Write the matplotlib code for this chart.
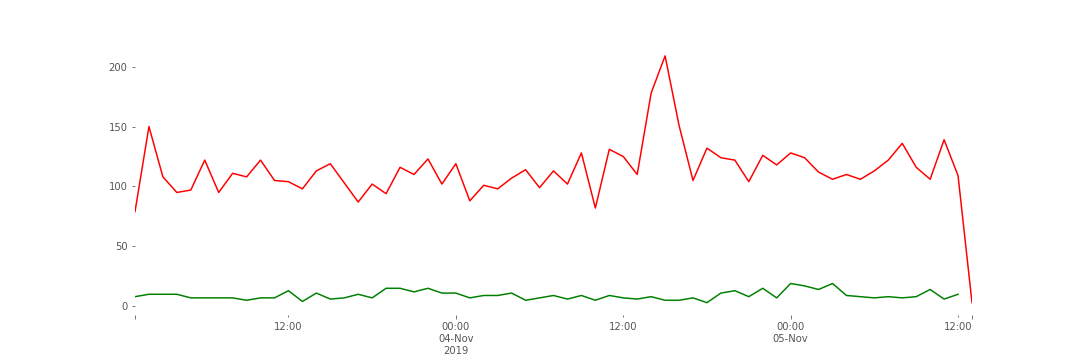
import numpy as np
import pandas as pd
import matplotlib
matplotlib.use("Agg")
import matplotlib.pyplot as plt
import matplotlib.dates as mdates
from matplotlib.ticker import FixedLocator, FixedFormatter

# -----------------------------
# DATA (hourly, 03-Nov-2019 01:00 -> 05-Nov-2019 13:00)
# -----------------------------
START = "2019-11-03 01:00"

red_values = [
    79, 150, 108, 95, 97, 122, 95, 111, 108, 122,
    105, 104, 98, 113, 119, 103, 87, 102, 94, 116,
    110, 123, 102, 119, 88, 101, 98, 107, 114, 99,
    113, 102, 128, 82, 131, 125, 110, 178, 209, 151,
    105, 132, 124, 122, 104, 126, 118, 128, 124, 112,
    106, 110, 106, 113, 122, 136, 116, 106, 139, 109,
    3,
]

green_values = [
    8, 10, 10, 10, 7, 7, 7, 7, 5, 7,
    7, 13, 4, 11, 6, 7, 10, 7, 15, 15,
    12, 15, 11, 11, 7, 9, 9, 11, 5, 7,
    9, 6, 9, 5, 9, 7, 6, 8, 5, 5,
    7, 3, 11, 13, 8, 15, 7, 19, 17, 14,
    19, 9, 8, 7, 8, 7, 8, 14, 6, 10,
    np.nan,
]

major_ticks = ["2019-11-03 01:00", "2019-11-04 00:00", "2019-11-05 00:00", "2019-11-05 13:00"]
major_labels = ["", "00:00\n04-Nov\n2019", "00:00\n05-Nov", ""]
minor_ticks = ["2019-11-03 12:00", "2019-11-04 12:00", "2019-11-05 12:00"]
minor_labels = ["12:00", "12:00", "12:00"]

times = pd.date_range(START, periods=len(red_values), freq="h")

# -----------------------------
# PLOT
# -----------------------------
fig = plt.figure(figsize=(15, 5), dpi=72)
ax = fig.add_axes([0.125, 0.125, 0.775, 0.754])

ax.plot(times, red_values, color="red", linewidth=1.5)
ax.plot(times, green_values, color="green", linewidth=1.5)

ax.set_xlim(times[0], times[-1])
ax.set_ylim(-7.3, 219.3)
ax.set_yticks([0, 50, 100, 150, 200])

ax.xaxis.set_major_locator(FixedLocator(mdates.date2num(pd.to_datetime(major_ticks))))
ax.xaxis.set_major_formatter(FixedFormatter(major_labels))
ax.xaxis.set_minor_locator(FixedLocator(mdates.date2num(pd.to_datetime(minor_ticks))))
ax.xaxis.set_minor_formatter(FixedFormatter(minor_labels))

for side in ["top", "right", "bottom", "left"]:
    ax.spines[side].set_visible(False)

ax.tick_params(axis="both", which="major", direction="out", length=3.5,
               width=0.8, colors="#555555", labelsize=10, pad=4)
ax.tick_params(axis="x", which="minor", direction="out", length=1.5,
               width=0.8, colors="#555555", labelsize=10, pad=6)

ax.set_xlabel("timestamp", color="#555555", fontsize=10)

fig.savefig("out.png", dpi=72, facecolor="white")
